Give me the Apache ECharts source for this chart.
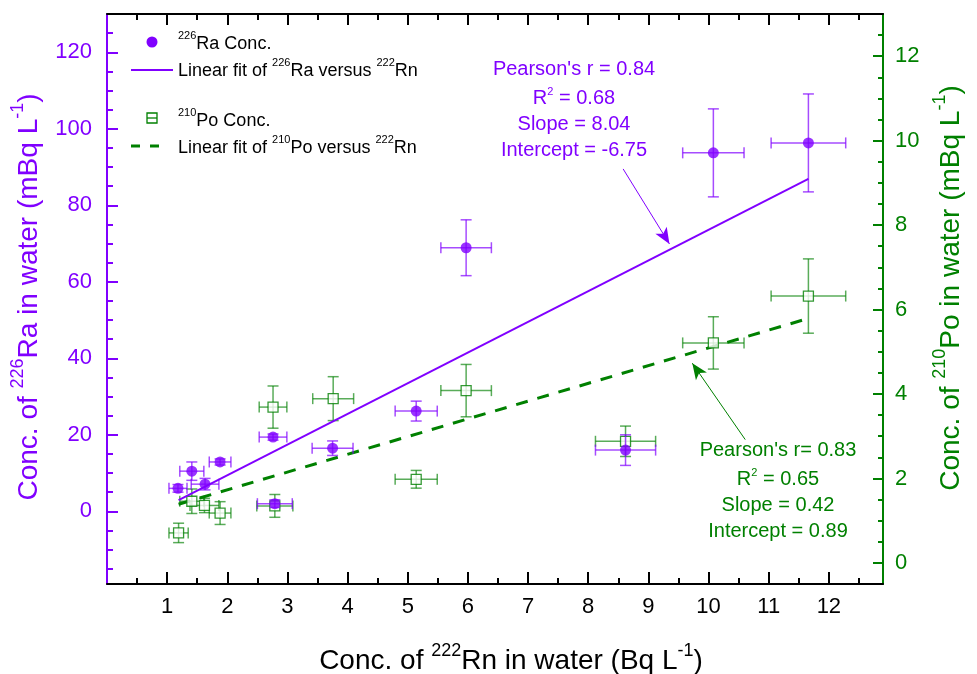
<!DOCTYPE html>
<html>
<head>
<meta charset="utf-8">
<script src="https://cdn.jsdelivr.net/npm/echarts@6/dist/echarts.min.js"></script>
<style>
  html, body { margin: 0; padding: 0; background: #fff; }
  #chart { width: 977px; height: 674px; }
</style>
</head>
<body>
<div id="chart"></div>
<script>
// 226Ra vs 222Rn (x = Rn in Bq/L, y = Ra in mBq/L), with uncertainties
const raRn = [1.18, 1.41, 1.63, 1.88, 2.76, 2.79, 3.75, 5.14, 5.97, 8.62, 10.08, 11.66];
const raRnErr = [0.15, 0.2, 0.23, 0.18, 0.23, 0.29, 0.34, 0.35, 0.42, 0.5, 0.51, 0.62];
const raConc = [6.0, 10.5, 7.1, 12.9, 19.4, 2.0, 16.5, 26.2, 68.9, 16.0, 93.7, 96.3];
const raErr = [1.0, 2.4, 1.5, 0.8, 0.8, 1.0, 1.9, 2.6, 7.3, 4.0, 11.5, 12.8];

// 210Po vs 222Rn (y = Po in mBq/L, right axis)
const poRn = [1.19, 1.41, 1.62, 1.88, 2.76, 2.79, 3.76, 5.14, 5.97, 8.62, 10.08, 11.66];
const poRnErr = [0.16, 0.2, 0.24, 0.18, 0.23, 0.3, 0.34, 0.35, 0.42, 0.5, 0.51, 0.62];
const poConc = [0.71, 1.46, 1.36, 1.18, 3.69, 1.35, 3.89, 1.98, 4.08, 2.88, 5.21, 6.32];
const poErr = [0.23, 0.29, 0.17, 0.27, 0.5, 0.27, 0.52, 0.21, 0.62, 0.36, 0.62, 0.88];

// linear fit end points
const raFit = [[1.19, 2.9], [11.66, 86.9]];
const poFit = [[1.19, 1.39], [11.66, 5.79]];

// arrows from the stat boxes to the fit lines
const raArrow = [[8.58, 89.5], [9.35, 69.9]];
const poArrow = [[10.61, 2.92], [9.73, 4.73]];

// ticks
const xTicks = [1, 2, 3, 4, 5, 6, 7, 8, 9, 10, 11, 12];
const xMinor = [0.5, 1.5, 2.5, 3.5, 4.5, 5.5, 6.5, 7.5, 8.5, 9.5, 10.5, 11.5, 12.5];
const raTicks = [0, 20, 40, 60, 80, 100, 120];
const raMinor = [-15, -10, -5, 5, 10, 15, 25, 30, 35, 45, 50, 55, 65, 70, 75, 85, 90, 95, 105, 110, 115, 125];
const poTicks = [0, 2, 4, 6, 8, 10, 12];
const poMinor = [0.5, 1, 1.5, 2.5, 3, 3.5, 4.5, 5, 5.5, 6.5, 7, 7.5, 8.5, 9, 9.5, 10.5, 11, 11.5, 12.5];

const raStats = ["Pearson's r = 0.84", 'R{sup|2} = 0.68', 'Slope = 8.04', 'Intercept = -6.75'];
const poStats = ["Pearson's r= 0.83", 'R{sup|2} = 0.65', 'Slope = 0.42', 'Intercept = 0.89'];

const PURPLE = '#8000ff';
const GREEN = '#008000';
const FONT = '"Liberation Sans", Arial, sans-serif';

const chart = echarts.init(document.getElementById('chart'), null, { renderer: 'canvas' });

function errorBars(color) {
  return function (params, api) {
    const x = api.value(0), y = api.value(1), dx = api.value(2), dy = api.value(3);
    const c = api.coord([x, y]);
    const l = api.coord([x - dx, y])[0];
    const r = api.coord([x + dx, y])[0];
    const t = api.coord([x, y + dy])[1];
    const b = api.coord([x, y - dy])[1];
    const cap = 5.5;
    const seg = (x1, y1, x2, y2) => ({
      type: 'line',
      shape: { x1, y1, x2, y2 },
      style: { stroke: color, lineWidth: 1.5 }
    });
    return {
      type: 'group',
      children: [
        seg(l, c[1], r, c[1]),
        seg(l, c[1] - cap, l, c[1] + cap),
        seg(r, c[1] - cap, r, c[1] + cap),
        seg(c[0], t, c[0], b),
        seg(c[0] - cap, t, c[0] + cap, t),
        seg(c[0] - cap, b, c[0] + cap, b)
      ]
    };
  };
}

function xAxisDef(pos, values, len, showLine, showLabel) {
  return {
    type: 'value', position: pos, min: 0, max: 12.9,
    axisLine: { show: showLine, onZero: false, lineStyle: { color: '#000', width: 2 } },
    axisTick: { inside: true, length: len, customValues: values, lineStyle: { color: '#000', width: 2 } },
    axisLabel: {
      show: showLabel, customValues: values, margin: 12,
      fontSize: 22, color: '#000', fontFamily: FONT
    },
    splitLine: { show: false }
  };
}

function yAxisDef(pos, min, max, color, values, len, showLine, showLabel, margin) {
  return {
    type: 'value', position: pos, min: min, max: max,
    axisLine: { show: showLine, onZero: false, lineStyle: { color: color, width: 2 } },
    axisTick: { inside: true, length: len, customValues: values, lineStyle: { color: color, width: 2 } },
    axisLabel: {
      show: showLabel, customValues: values, margin: margin,
      fontSize: 22, color: color, fontFamily: FONT
    },
    splitLine: { show: false }
  };
}

// text with raised superscripts: bottom padding on the sup token lifts it
function label(x, y, text, size, color, align, supSize, lift, rot) {
  return {
    type: 'text', x: x, y: y, rotation: rot || 0, silent: true,
    style: {
      text: text, fontSize: size, fill: color, fontFamily: FONT,
      align: align, verticalAlign: 'middle',
      rich: {
        sup: { fontSize: supSize, color: color, fontFamily: FONT, padding: [0, 0, lift, 0] }
      }
    }
  };
}

const graphic = [
  // axis titles
  label(29, 297, 'Conc. of {sup|226}Ra in water (mBq L{sup|-1})', 28, PURPLE, 'center', 18, 22, Math.PI / 2),
  label(951, 288, 'Conc. of {sup|210}Po in water (mBq L{sup|-1})', 28, GREEN, 'center', 18, 22, Math.PI / 2),
  label(511, 661, 'Conc. of {sup|222}Rn in water (Bq L{sup|-1})', 28, '#000', 'center', 18, 20),
  // legend
  { type: 'circle', shape: { cx: 152, cy: 42, r: 5.5 }, style: { fill: PURPLE }, silent: true },
  label(178, 44, '{sup|226}Ra Conc.', 18, '#000', 'left', 11, 16),
  { type: 'line', shape: { x1: 131, y1: 70, x2: 173, y2: 70 }, style: { stroke: PURPLE, lineWidth: 2 }, silent: true },
  label(178, 71, 'Linear fit of {sup|226}Ra versus {sup|222}Rn', 18, '#000', 'left', 11, 16),
  { type: 'rect', shape: { x: 147, y: 113, width: 10, height: 10 }, style: { fill: '#fff', stroke: GREEN, lineWidth: 1.3 }, silent: true },
  { type: 'line', shape: { x1: 147, y1: 118, x2: 157, y2: 118 }, style: { stroke: GREEN, lineWidth: 1.3 }, silent: true },
  label(178, 121, '{sup|210}Po Conc.', 18, '#000', 'left', 11, 16),
  { type: 'line', shape: { x1: 131, y1: 146, x2: 160, y2: 146 }, style: { stroke: GREEN, lineWidth: 3, lineDash: [9, 10] }, silent: true },
  label(178, 148, 'Linear fit of {sup|210}Po versus {sup|222}Rn', 18, '#000', 'left', 11, 16)
];
const raStatY = [69, 98, 124, 150];
raStats.forEach((s, i) => graphic.push(label(574, raStatY[i], s, 20, PURPLE, 'center', 11, 12)));
const poStatY = [450, 479, 505, 531];
poStats.forEach((s, i) => graphic.push(label(778, poStatY[i], s, 20, GREEN, 'center', 11, 12)));

function arrowLine(pts, color) {
  return {
    silent: true, animation: false,
    symbol: ['none', 'arrow'], symbolSize: [10, 16],
    label: { show: false },
    emphasis: { disabled: true },
    lineStyle: { color: color, width: 1, type: 'solid' },
    data: [[{ coord: pts[0] }, { coord: pts[1] }]]
  };
}

chart.setOption({
  animation: false,
  backgroundColor: '#fff',
  grid: { left: 107, right: 94, top: 14, bottom: 90, containLabel: false, outerBoundsMode: 'none' },
  xAxis: [
    xAxisDef('bottom', xTicks, 12, true, true),
    xAxisDef('bottom', xMinor, 6, false, false),
    xAxisDef('top', xTicks, 11, true, false),
    xAxisDef('top', xMinor, 6, false, false)
  ],
  yAxis: [
    yAxisDef('left', -19, 130, PURPLE, raTicks, 11, true, true, 15),
    yAxisDef('left', -19, 130, PURPLE, raMinor, 6, false, false, 15),
    yAxisDef('right', -0.5, 13, GREEN, poTicks, 10, true, true, 12),
    yAxisDef('right', -0.5, 13, GREEN, poMinor, 5, false, false, 12)
  ],
  graphic: graphic,
  series: [
    {
      type: 'line', xAxisIndex: 0, yAxisIndex: 2, data: poFit,
      symbol: 'none', silent: true,
      lineStyle: { color: GREEN, width: 3, type: [12, 10] },
      markLine: arrowLine(poArrow, GREEN), z: 3
    },
    {
      type: 'custom', xAxisIndex: 0, yAxisIndex: 2,
      data: poRn.map((x, i) => [x, poConc[i], poRnErr[i], poErr[i]]),
      renderItem: errorBars('rgba(0, 128, 0, 0.65)'), encode: { x: 0, y: 1 }, silent: true, z: 4
    },
    {
      type: 'scatter', xAxisIndex: 0, yAxisIndex: 2,
      data: poRn.map((x, i) => [x, poConc[i]]),
      symbol: 'rect', symbolSize: 10,
      itemStyle: { color: '#fff', borderColor: GREEN, borderWidth: 1.3 }, silent: true, z: 5
    },
    {
      type: 'line', xAxisIndex: 0, yAxisIndex: 0, data: raFit,
      symbol: 'none', silent: true,
      lineStyle: { color: PURPLE, width: 2 },
      markLine: arrowLine(raArrow, PURPLE), z: 6
    },
    {
      type: 'custom', xAxisIndex: 0, yAxisIndex: 0,
      data: raRn.map((x, i) => [x, raConc[i], raRnErr[i], raErr[i]]),
      renderItem: errorBars('rgba(128, 0, 255, 0.7)'), encode: { x: 0, y: 1 }, silent: true, z: 7
    },
    {
      type: 'scatter', xAxisIndex: 0, yAxisIndex: 0,
      data: raRn.map((x, i) => [x, raConc[i]]),
      symbol: 'circle', symbolSize: 11,
      itemStyle: { color: PURPLE }, silent: true, z: 8
    }
  ]
});
</script>
</body>
</html>
